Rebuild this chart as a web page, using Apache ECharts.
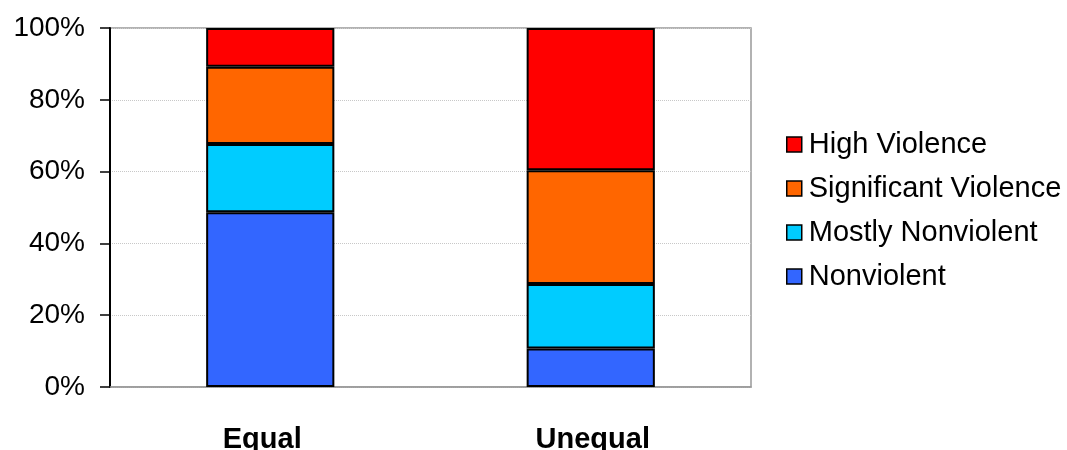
<!DOCTYPE html>
<html>
<head>
<meta charset="utf-8">
<script src="https://cdn.jsdelivr.net/npm/echarts@6/dist/echarts.min.js"></script>
<style>html,body{margin:0;padding:0;background:#fff}#c{width:1067px;height:450px}</style>
</head>
<body>
<div id="c"></div>
<script>
var categories = ['Equal', 'Unequal'];
var nonviolent = [48.7, 10.7];
var mostlyNonviolent = [19.0, 18.0];
var significantViolence = [21.5, 31.7];
var highViolence = [10.8, 39.6];
var yTicks = [0, 20, 40, 60, 80, 100];

var seriesDefs = [
  {name: 'Nonviolent', data: nonviolent, color: '#3366FF'},
  {name: 'Mostly Nonviolent', data: mostlyNonviolent, color: '#00CCFF'},
  {name: 'Significant Violence', data: significantViolence, color: '#FF6600'},
  {name: 'High Violence', data: highViolence, color: '#FF0000'}
];

// small per-label horizontal nudges seen in the reference
var labelPads = [[0, 16, 0, 0], [0, 0, 0, 4]];

var chart = echarts.init(document.getElementById('c'));
chart.setOption({
  animation: false,
  textStyle: {fontFamily: 'Liberation Sans, Arial, sans-serif'},
  grid: {left: 110, right: 316, top: 28, bottom: 63, containLabel: false, outerBoundsMode: 'none',
         show: true, borderColor: '#999', borderWidth: 1.5, backgroundColor: 'transparent'},
  legend: {
    orient: 'vertical', left: 781, top: 125,
    data: ['High Violence', 'Significant Violence', 'Mostly Nonviolent', 'Nonviolent'],
    icon: 'rect', itemWidth: 15, itemHeight: 15, itemGap: 15,
    itemStyle: {borderColor: '#000', borderWidth: 1.5},
    textStyle: {fontSize: 29, color: '#000', lineHeight: 29, padding: [0, 0, 0, 2]},
    selectedMode: false
  },
  xAxis: {
    type: 'category',
    data: categories.map(function (c, i) { return {value: c, textStyle: {padding: labelPads[i]}}; }),
    axisLine: {show: true, lineStyle: {color: '#999', width: 1.5}},
    axisTick: {show: false},
    axisLabel: {fontSize: 29, fontWeight: 'bold', color: '#000', margin: 38}
  },
  yAxis: {
    type: 'value', min: yTicks[0], max: yTicks[yTicks.length - 1], interval: 20,
    axisLine: {show: true, lineStyle: {color: '#000', width: 2}},
    axisTick: {show: true, length: 10, lineStyle: {color: '#000', width: 1.5}},
    axisLabel: {fontSize: 28, color: '#000', margin: 25, formatter: '{value}%'},
    splitLine: {show: true, lineStyle: {color: '#c8c8c8', width: 1, type: 'dotted'}}
  },
  series: seriesDefs.map(function (s) {
    return {
      name: s.name, type: 'bar', stack: 'total', data: s.data,
      barWidth: '40%',
      itemStyle: {color: s.color, borderColor: '#000', borderWidth: 2}
    };
  })
});
</script>
</body>
</html>
